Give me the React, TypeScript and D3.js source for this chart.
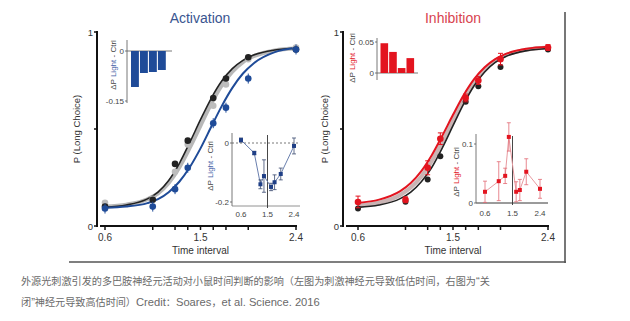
import React from "react";
import * as d3 from "d3";

// ---------- data ----------
const trialTimes = [0.6, 1.05, 1.26, 1.38, 1.62, 1.74, 1.95, 2.4];
const axisTicks = [0.6, 1.05, 1.26, 1.38, 1.5, 1.62, 1.74, 1.95, 2.4];
const axisTickLabels = [0.6, 1.5, 2.4];
const curveT = [0.6, 0.8, 1.0, 1.1, 1.2, 1.3, 1.4, 1.5, 1.6, 1.7, 1.8, 1.9, 2.0, 2.2, 2.4];

// Activation panel
const actCtrl = [0.1, 0.135, 0.32, 0.44, 0.66, 0.76, 0.87, 0.91];
const actGray = [0.12, 0.14, 0.28, 0.42, 0.62, 0.73, 0.86, 0.92];
const actLight = [0.09, 0.1, 0.19, 0.3, 0.53, 0.61, 0.76, 0.91];
const actCtrlFit = [0.097, 0.108, 0.14, 0.175, 0.235, 0.322, 0.432, 0.548, 0.657, 0.747, 0.811, 0.854, 0.881, 0.907, 0.916];
const actGrayFit = [0.1, 0.11, 0.138, 0.168, 0.222, 0.302, 0.405, 0.518, 0.63, 0.725, 0.795, 0.845, 0.875, 0.905, 0.915];
const actLightFit = [0.094, 0.1, 0.118, 0.138, 0.174, 0.228, 0.304, 0.4, 0.51, 0.618, 0.712, 0.786, 0.838, 0.896, 0.917];
const actBars = [-0.108, -0.066, -0.063, -0.057];
const actDiff = [0.01, -0.034, -0.14, -0.112, -0.149, -0.133, -0.105, -0.01];
const actDiffErr = [0.007, 0.006, 0.015, 0.055, 0.0125, 0.025, 0.02, 0.027];

// Inhibition panel
const inhCtrl = [0.09, 0.125, 0.24, 0.36, 0.64, 0.72, 0.82, 0.91];
const inhLight = [0.124, 0.135, 0.3, 0.45, 0.66, 0.75, 0.86, 0.92];
const inhLightErr = [0.03, 0.015, 0.036, 0.03, 0.02, 0.02, 0.03, 0.015];
const inhCtrlFit = [0.096, 0.108, 0.141, 0.175, 0.228, 0.303, 0.404, 0.517, 0.628, 0.723, 0.794, 0.843, 0.874, 0.904, 0.915];
const inhGrayFit = [0.105, 0.12, 0.16, 0.198, 0.255, 0.335, 0.436, 0.545, 0.651, 0.74, 0.806, 0.852, 0.88, 0.909, 0.92];
const inhLightFit = [0.119, 0.136, 0.18, 0.222, 0.283, 0.366, 0.467, 0.573, 0.674, 0.757, 0.818, 0.86, 0.887, 0.914, 0.924];
const inhBars = [0.048, 0.034, 0.008, 0.024];
const inhDiff = [0.019, 0.037, 0.046, 0.112, 0.019, 0.022, 0.053, 0.024];
const inhDiffErr = [0.018, 0.033, 0.013, 0.024, 0.017, 0.018, 0.022, 0.016];

// caption segments: [text, isLatin]
const captionLine1: [string, boolean][] = [
  ["外源光刺激引发的多巴胺神经元活动对小鼠时间判断的影响（左图为刺激神经元导致低估时间，右图为", false],
  ["“", true],
  ["关", false],
];
const captionLine2: [string, boolean][] = [
  ["闭", false],
  ["”", true],
  ["神经元导致高估时间）", false],
  ["Credit", true],
  ["：", false],
  ["Soares", true],
  ["，", false],
  ["et al. Science. 2016", true],
];

// ---------- styles ----------
const FONT = "'Liberation Sans', Arial, sans-serif";
const CJK = "'Noto Sans CJK SC', sans-serif";
const BLUE = "#1f4b98";
const RED = "#e3141f";
const TXT = "#333";

type PanelProps = {
  x0: number; x1: number; axisX: number; yTop: number; yBot: number;
  title: string; titleColor: string; titleX: number;
  ylabX: number;
  children: (sx: d3.ScaleLinear<number, number>, sy: d3.ScaleLinear<number, number>) => React.ReactNode;
};

function Panel(p: PanelProps) {
  const sx = d3.scaleLinear().domain([0.6, 2.4]).range([p.x0, p.x1]);
  const sy = d3.scaleLinear().domain([0, 1]).range([p.yBot, p.yTop]);
  const axisY = p.yBot;
  return (
    <g>
      <text x={p.titleX} y={23} textAnchor="middle" fontFamily={FONT} fontSize={14} fill={p.titleColor}>{p.title}</text>
      <line x1={p.axisX} x2={p.axisX} y1={sy(1) - 1} y2={sy(0) + 1} stroke="#111" strokeWidth={2} />
      {[0, 0.5, 1].map((v) => (
        <line key={v} x1={p.axisX - 3} x2={p.axisX} y1={sy(v)} y2={sy(v)} stroke="#111" strokeWidth={1.5} />
      ))}
      <text x={p.axisX - 4} y={sy(1) + 4} textAnchor="end" fontFamily={FONT} fontSize={9.5} fill={TXT}>1</text>
      <text x={p.axisX - 4} y={sy(0) + 4} textAnchor="end" fontFamily={FONT} fontSize={9.5} fill={TXT}>0</text>
      <text transform={`translate(${p.ylabX},${(p.yTop + p.yBot) / 2}) rotate(-90)`} textAnchor="middle" fontFamily={FONT} fontSize={9.5} fill={TXT}>P (Long Choice)</text>
      <line x1={p.axisX + 3} x2={p.x1 + 1} y1={axisY} y2={axisY} stroke="#111" strokeWidth={2} />
      {axisTicks.map((t) => (
        <line key={t} x1={sx(t)} x2={sx(t)} y1={axisY - 1} y2={axisY + 4} stroke="#111" strokeWidth={1.5} />
      ))}
      {axisTickLabels.map((t) => (
        <text key={t} x={sx(t)} y={axisY + 15} textAnchor="middle" fontFamily={FONT} fontSize={10} fill={TXT}>{t.toFixed(1)}</text>
      ))}
      <text x={sx(1.5)} y={axisY + 28} textAnchor="middle" fontFamily={FONT} fontSize={10} fill={TXT}>Time interval</text>
      {p.children(sx, sy)}
    </g>
  );
}

function curvePath(sx: any, sy: any, ys: number[]) {
  const line = d3.line<number>().x((_, i) => sx(curveT[i])).y((v) => sy(v)).curve(d3.curveMonotoneX);
  return line(ys) || "";
}

function BarInset(props: { axisX: number; yZero: number; yRef: number; refVal: number; values: number[]; color: string; tickLabels: { v: number; t: string }[]; axTop: number; axBot: number; labX: number; labY: number; lightColor: string; barX0: number; barW: number; baseEnd: number; }) {
  const sy = d3.scaleLinear().domain([0, props.refVal]).range([props.yZero, props.yRef]);
  const sxb = d3.scaleBand<number>().domain(props.values.map((_, i) => i)).range([props.barX0, props.barX0 + props.barW * props.values.length]).paddingInner(0.12);
  return (
    <g>
      <line x1={props.axisX} x2={props.axisX} y1={props.axTop} y2={props.axBot} stroke="#555" strokeWidth={0.8} />
      <line x1={props.axisX} x2={props.baseEnd} y1={sy(0)} y2={sy(0)} stroke="#555" strokeWidth={0.8} />
      {props.tickLabels.map((tl) => (
        <g key={tl.t}>
          <line x1={props.axisX - 2} x2={props.axisX} y1={sy(tl.v)} y2={sy(tl.v)} stroke="#555" strokeWidth={0.8} />
          <text x={props.axisX - 3} y={sy(tl.v) + 3} textAnchor="end" fontFamily={FONT} fontSize={8} fill="#444">{tl.t}</text>
        </g>
      ))}
      {props.values.map((v, i) => (
        <rect key={i} x={sxb(i)} width={sxb.bandwidth()} y={Math.min(sy(v), sy(0))} height={Math.abs(sy(v) - sy(0))} fill={props.color} />
      ))}
      <text transform={`translate(${props.labX},${props.labY}) rotate(-90)`} textAnchor="middle" fontFamily={FONT} fontSize={8} fill="#444">
        ΔP <tspan fill={props.lightColor}>Light</tspan> - Ctrl
      </text>
    </g>
  );
}

function LineInset(props: { axisX: number; x06: number; x24: number; y0: number; yRefVal: number; yRef: number; axTop: number; axBot: number; xEnd: number; values: number[]; errs: number[]; lineColor: string; ptColor: string; errColor: string; yTickLabels: { v: number; t: string }[]; labX: number; labY: number; lightColor: string; zeroDashed: boolean; xlabY: number; }) {
  const sx = d3.scaleLinear().domain([0.6, 2.4]).range([props.x06, props.x24]);
  const sy = d3.scaleLinear().domain([0, props.yRefVal]).range([props.y0, props.yRef]);
  const line = d3.line<number>().x((_, i) => sx(trialTimes[i])).y((v) => sy(v));
  return (
    <g>
      <line x1={props.axisX} x2={props.axisX} y1={props.axTop} y2={props.axBot} stroke="#555" strokeWidth={0.8} />
      <line x1={props.axisX} x2={props.xEnd} y1={props.axBot} y2={props.axBot} stroke="#777" strokeWidth={0.8} />
      <line x1={props.axisX} x2={props.xEnd} y1={sy(0)} y2={sy(0)} stroke="#555" strokeWidth={0.8} strokeDasharray={props.zeroDashed ? "2,2" : undefined} />
      <line x1={sx(1.5)} x2={sx(1.5)} y1={props.axTop + 2} y2={props.axBot + 2} stroke="#333" strokeWidth={0.9} />
      {props.yTickLabels.map((tl) => (
        <g key={tl.t}>
          <line x1={props.axisX - 2} x2={props.axisX} y1={sy(tl.v)} y2={sy(tl.v)} stroke="#555" strokeWidth={0.8} />
          <text x={props.axisX - 3} y={sy(tl.v) + 3} textAnchor="end" fontFamily={FONT} fontSize={8} fill="#444">{tl.t}</text>
        </g>
      ))}
      {axisTickLabels.map((t) => (
        <text key={t} x={sx(t)} y={props.xlabY} textAnchor="middle" fontFamily={FONT} fontSize={8} fill="#444">{t.toFixed(1)}</text>
      ))}
      <path d={line(props.values) || ""} fill="none" stroke={props.lineColor} strokeWidth={1} />
      {props.values.map((v, i) => (
        <g key={i}>
          <line x1={sx(trialTimes[i])} x2={sx(trialTimes[i])} y1={sy(v - props.errs[i])} y2={sy(v + props.errs[i])} stroke={props.errColor} strokeWidth={0.8} />
          <line x1={sx(trialTimes[i]) - 2} x2={sx(trialTimes[i]) + 2} y1={sy(v - props.errs[i])} y2={sy(v - props.errs[i])} stroke={props.errColor} strokeWidth={0.8} />
          <line x1={sx(trialTimes[i]) - 2} x2={sx(trialTimes[i]) + 2} y1={sy(v + props.errs[i])} y2={sy(v + props.errs[i])} stroke={props.errColor} strokeWidth={0.8} />
          <rect x={sx(trialTimes[i]) - 2} y={sy(v) - 2} width={4} height={4} fill={props.ptColor} />
        </g>
      ))}
      <text transform={`translate(${props.labX},${props.labY}) rotate(-90)`} textAnchor="middle" fontFamily={FONT} fontSize={8} fill="#444">
        ΔP <tspan fill={props.lightColor}>Light</tspan> - Ctrl
      </text>
    </g>
  );
}

function CaptionLine({ segs, y }: { segs: [string, boolean][]; y: number }) {
  return (
    <text x={21} y={y} fontSize={10} fill="#6a6a6a">
      {segs.map(([s, latin], i) => (
        <tspan key={i} fontFamily={latin ? FONT : CJK} fontSize={latin ? 11.2 : 10.12}>{s}</tspan>
      ))}
    </text>
  );
}

export default function App() {
  return (
    <svg width={630} height={321} style={{ position: "absolute", left: 0, top: 0, background: "#fff" }}>
      <rect width={630} height={321} fill="#fff" />
      <line x1={565} x2={565} y1={12} y2={263} stroke="#777" strokeWidth={2} />
      <line x1={69} x2={566} y1={262} y2={262} stroke="#555" strokeWidth={1.5} />

      <Panel x0={105} x1={296} axisX={97} yTop={32} yBot={226} title="Activation" titleColor="#3a5590" titleX={200} ylabX={80}>
        {(sx, sy) => (
          <g>
            <path d={curvePath(sx, sy, actGrayFit)} fill="none" stroke="#b8b8b8" strokeWidth={4} />
            <path d={curvePath(sx, sy, actCtrlFit)} fill="none" stroke="#222" strokeWidth={1.6} />
            <path d={curvePath(sx, sy, actLightFit)} fill="none" stroke={BLUE} strokeWidth={2} />
            {actGray.map((v, i) => <circle key={"g" + i} cx={sx(trialTimes[i])} cy={sy(v)} r={3.3} fill="#bdbdbd" />)}
            {actCtrl.map((v, i) => <circle key={"k" + i} cx={sx(trialTimes[i])} cy={sy(v)} r={3.3} fill="#222" />)}
            {actLight.map((v, i) => (
              <g key={"b" + i}>
                <line x1={sx(trialTimes[i])} x2={sx(trialTimes[i])} y1={sy(v) - 5} y2={sy(v) + 5} stroke={BLUE} strokeWidth={1} />
                <circle cx={sx(trialTimes[i])} cy={sy(v)} r={3.3} fill={BLUE} />
              </g>
            ))}
          </g>
        )}
      </Panel>
      <BarInset axisX={127} yZero={51} yRef={101} refVal={-0.15} values={actBars} color={BLUE}
        tickLabels={[{ v: 0, t: "0" }, { v: -0.15, t: "-0.15" }]} axTop={40} axBot={103}
        labX={116} labY={65} lightColor="#4a63a8" barX0={131} barW={8.7} baseEnd={172} />
      <LineInset axisX={232} x06={241} x24={294} y0={143} yRefVal={-0.2} yRef={202} axTop={133} axBot={206} xEnd={300}
        values={actDiff} errs={actDiffErr} lineColor="#6a7fae" ptColor="#1f3f86" errColor="#3a4a70"
        yTickLabels={[{ v: 0, t: "0" }, { v: -0.2, t: "-0.2" }]} labX={213} labY={166} lightColor="#4a63a8" zeroDashed={true} xlabY={217} />

      <Panel x0={358} x1={548} axisX={343} yTop={32} yBot={226} title="Inhibition" titleColor="#d8434f" titleX={453} ylabX={328}>
        {(sx, sy) => (
          <g>
            <path d={curvePath(sx, sy, inhGrayFit)} fill="none" stroke="#c9b4b4" strokeWidth={4} />
            <path d={curvePath(sx, sy, inhCtrlFit)} fill="none" stroke="#222" strokeWidth={1.6} />
            <path d={curvePath(sx, sy, inhLightFit)} fill="none" stroke={RED} strokeWidth={2} />
            {inhCtrl.map((v, i) => <circle key={"k" + i} cx={sx(trialTimes[i])} cy={sy(v)} r={3} fill="#222" />)}
            {inhLight.map((v, i) => (
              <g key={"r" + i}>
                <line x1={sx(trialTimes[i])} x2={sx(trialTimes[i])} y1={sy(v - inhLightErr[i])} y2={sy(v + inhLightErr[i])} stroke={RED} strokeWidth={1} />
                <line x1={sx(trialTimes[i]) - 2.5} x2={sx(trialTimes[i]) + 2.5} y1={sy(v + inhLightErr[i])} y2={sy(v + inhLightErr[i])} stroke={RED} strokeWidth={1} />
                <line x1={sx(trialTimes[i]) - 2.5} x2={sx(trialTimes[i]) + 2.5} y1={sy(v - inhLightErr[i])} y2={sy(v - inhLightErr[i])} stroke={RED} strokeWidth={1} />
                <circle cx={sx(trialTimes[i])} cy={sy(v)} r={3.3} fill={RED} />
              </g>
            ))}
          </g>
        )}
      </Panel>
      <BarInset axisX={377} yZero={73} yRef={42} refVal={0.05} values={inhBars} color={RED}
        tickLabels={[{ v: 0, t: "0" }, { v: 0.05, t: "0.05" }]} axTop={38} axBot={80}
        labX={355} labY={58} lightColor={RED} barX0={380.5} barW={8.4} baseEnd={418} />
      <LineInset axisX={476} x06={485} x24={540} y0={203} yRefVal={0.1} yRef={144} axTop={134} axBot={203} xEnd={548}
        values={inhDiff} errs={inhDiffErr} lineColor="#e89aa0" ptColor={RED} errColor="#e26a74"
        yTickLabels={[{ v: 0, t: "0" }, { v: 0.1, t: "0.1" }]} labX={459} labY={172} lightColor={RED} zeroDashed={false} xlabY={216} />

      <CaptionLine segs={captionLine1} y={285} />
      <CaptionLine segs={captionLine2} y={306} />
    </svg>
  );
}
